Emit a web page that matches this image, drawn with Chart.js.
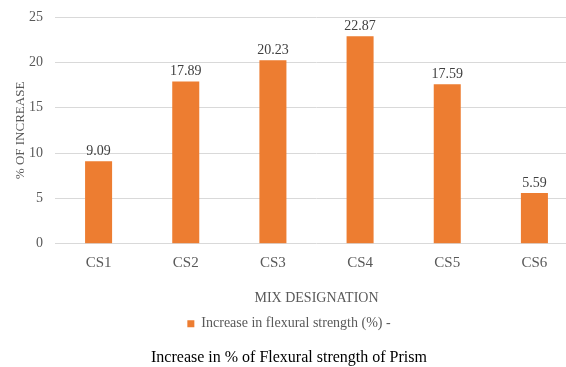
<!DOCTYPE html>
<html>
<head>
<meta charset="utf-8">
<script src="https://cdn.jsdelivr.net/npm/chart.js@4/dist/chart.umd.min.js"></script>
<style>
html,body{margin:0;padding:0;background:#fff;overflow:hidden;}
#wrap{width:578px;height:367px;position:relative;}
</style>
</head>
<body>
<div id="wrap"><canvas id="c" width="578" height="367"></canvas></div>
<script>
const categories = ["CS1","CS2","CS3","CS4","CS5","CS6"];
const increaseValues = [9.09, 17.89, 20.23, 22.87, 17.59, 5.59];
const valueLabels = ["9.09","17.89","20.23","22.87","17.59","5.59"];
const seriesName = "Increase in flexural strength (%) -";
const chartTitle = "Increase in % of Flexural strength of Prism";
const xTitle = "MIX DESIGNATION";
const yTitle = "% OF INCREASE";

const FONT = "'Liberation Serif', 'Times New Roman', serif";

const valueLabelPlugin = {
  id: 'valueLabels',
  afterDatasetsDraw(chart) {
    const ctx = chart.ctx;
    const meta = chart.getDatasetMeta(0);
    ctx.save();
    ctx.font = "14px " + FONT;
    ctx.fillStyle = "#404040";
    ctx.textAlign = "center";
    ctx.textBaseline = "bottom";
    meta.data.forEach((bar, i) => {
      ctx.fillText(valueLabels[i], bar.x, bar.y - 3);
    });
    ctx.restore();
  }
};

new Chart(document.getElementById('c'), {
  type: 'bar',
  data: {
    labels: categories,
    datasets: [{
      label: seriesName,
      data: increaseValues,
      backgroundColor: '#ED7D31',
      borderWidth: 0,
      categoryPercentage: 1.0,
      barPercentage: 0.31
    }]
  },
  options: {
    responsive: false,
    animation: false,
    devicePixelRatio: 1,
    layout: { padding: { top: 17, right: 0, bottom: 0, left: 0 } },
    plugins: {
      legend: {
        position: 'bottom',
        labels: {
          font: { family: FONT, size: 14 },
          color: '#595959',
          boxWidth: 7,
          boxHeight: 7,
          padding: 3
        }
      },
      title: {
        display: true,
        position: 'bottom',
        text: chartTitle,
        color: '#000',
        font: { family: FONT, size: 16, weight: 'normal' },
        padding: { top: 7, bottom: 0 }
      },
      tooltip: { enabled: false }
    },
    scales: {
      x: {
        grid: { display: false, drawTicks: false },
        border: { display: false },
        ticks: { color: '#595959', font: { family: FONT, size: 15 }, padding: 10 },
        title: { display: true, text: xTitle, color: '#595959', font: { family: FONT, size: 14 }, padding: { top: 10, bottom: 7 } },
        afterFit(s) { s.height = 70; }
      },
      y: {
        min: 0, max: 25,
        ticks: { stepSize: 5, color: '#595959', font: { family: FONT, size: 14 }, padding: 12 },
        grid: { color: '#d9d9d9', drawTicks: false },
        border: { display: false },
        title: { display: true, text: yTitle, color: '#595959', font: { family: FONT, size: 13 }, padding: { top: 13, bottom: 0 } },
        afterFit(s) { s.width = 55; s.paddingTop = 0; s.paddingBottom = 0; }
      }
    }
  },
  plugins: [valueLabelPlugin]
});
</script>
</body>
</html>
